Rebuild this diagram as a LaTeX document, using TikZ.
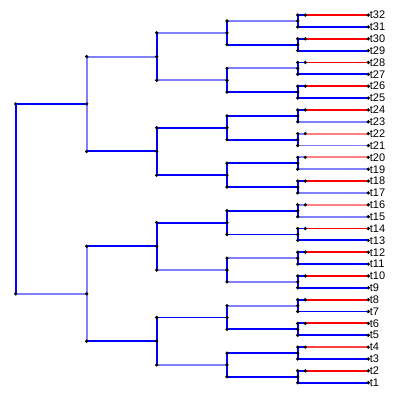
\documentclass[tikz,border=0pt]{standalone}
\usepackage{fontspec}
\setmainfont{Liberation Sans}
\usetikzlibrary{calc}

\begin{document}
\begin{tikzpicture}[
  x=1pt, y=-1pt,
  branch/.style={line width=1.9pt},
  edk/.style={branch, draw=blue},
  elt/.style={branch, draw=blue!50},
  erd/.style={branch, draw=red},
  emd/.style={branch, draw=red!75},
  elr/.style={branch, draw=red!50},
  pnt/.style={fill=black},
  tiplab/.style={anchor=west, inner xsep=1.4pt, inner ysep=0pt,
                 font=\fontsize{11}{12}\selectfont}
]
\useasboundingbox (0,0) rectangle (400,399);
% node positions (tips, pairs, then inner levels)
\foreach \i in {1,...,32}
  \coordinate (t\i) at (368.3,{382.7-(\i-1)*11.86});
\foreach \k in {1,...,16} {
  \coordinate (p\k) at (297.7,{382.7-(2*\k-1.5)*11.86});
  \coordinate (m\k) at (305.3,{382.7-(2*\k-1)*11.86});
}
\foreach \k in {1,...,8}
  \coordinate (q\k) at (227.0,{382.7-(4*\k-2.5)*11.86});
\foreach \k in {1,...,4}
  \coordinate (r\k) at (156.7,{382.7-(8*\k-4.5)*11.86});
\foreach \k in {1,2}
  \coordinate (s\k) at (86.7,{382.7-(16*\k-8.5)*11.86});
\coordinate (root) at (15.7,{382.7-15.5*11.86});

% tip edges
\foreach \k/\sa/\ra/\sb in {1/edk/erd/edk, 2/edk/emd/edk, 3/edk/erd/edk,
    4/edk/erd/edk, 5/edk/erd/edk, 6/edk/erd/edk, 7/edk/erd/edk, 8/elt/elr/elt,
    9/edk/erd/elt, 10/elt/elr/elt, 11/elt/elr/elt, 12/edk/erd/elt,
    13/edk/erd/edk, 14/edk/erd/edk, 15/edk/erd/edk, 16/edk/erd/edk} {
  \pgfmathtruncatemacro\ev{2*\k}
  \pgfmathtruncatemacro\od{2*\k-1}
  \draw[\sa] (m\k -| p\k) -- (m\k);
  \draw[\ra] (m\k) -- (t\ev);
  \draw[\sb] (t\od -| p\k) -- (t\od);
  \draw[edk] (m\k -| p\k) -- (t\od -| p\k);
}
% pair edges
\foreach \k/\s in {1/edk, 2/edk, 3/edk, 4/elt, 5/elt, 6/elt, 7/edk, 8/edk,
    9/edk, 10/edk, 11/edk, 12/edk, 13/edk, 14/elt, 15/edk, 16/elt} {
  \pgfmathtruncatemacro\up{(\k+1)/2}
  \draw[\s] (p\k -| q\up) -- (p\k);
}
\foreach \j in {1,...,8} {
  \pgfmathtruncatemacro\lo{2*\j-1}
  \pgfmathtruncatemacro\hi{2*\j}
  \draw[edk] (p\lo -| q\j) -- (p\hi -| q\j);
}
% third level
\foreach \k/\s in {1/elt, 2/edk, 3/elt, 4/edk, 5/edk, 6/edk, 7/elt, 8/elt} {
  \pgfmathtruncatemacro\up{(\k+1)/2}
  \draw[\s] (q\k -| r\up) -- (q\k);
}
\foreach \j in {1,...,4} {
  \pgfmathtruncatemacro\lo{2*\j-1}
  \pgfmathtruncatemacro\hi{2*\j}
  \draw[edk] (q\lo -| r\j) -- (q\hi -| r\j);
}
% second level
\foreach \k/\s in {1/edk, 2/edk, 3/edk, 4/elt} {
  \pgfmathtruncatemacro\up{(\k+1)/2}
  \draw[\s] (r\k -| s\up) -- (r\k);
}
\draw[elt] (r1 -| s1) -- (r2 -| s1);
\draw[elt] (r3 -| s2) -- (r4 -| s2);
% root
\draw[elt] (s1 -| root) -- (s1);
\draw[edk] (s2 -| root) -- (s2);
\draw[edk] (s1 -| root) -- (s2 -| root);

% end points
\foreach \i in {1,...,32}
  \fill[pnt] (t\i) circle (1.8pt);
\foreach \k in {1,...,16} {
  \pgfmathtruncatemacro\od{2*\k-1}
  \pgfmathtruncatemacro\up{(\k+1)/2}
  \fill[pnt] (m\k) circle (1.8pt) (m\k -| p\k) circle (1.8pt)
    (t\od -| p\k) circle (1.8pt) (p\k) circle (1.8pt) (p\k -| q\up) circle (1.8pt);
}
\foreach \k in {1,...,8} {
  \pgfmathtruncatemacro\up{(\k+1)/2}
  \fill[pnt] (q\k) circle (1.8pt) (q\k -| r\up) circle (1.8pt);
}
\foreach \k in {1,...,4} {
  \pgfmathtruncatemacro\up{(\k+1)/2}
  \fill[pnt] (r\k) circle (1.8pt) (r\k -| s\up) circle (1.8pt);
}
\fill[pnt] (s1) circle (1.8pt) (s2) circle (1.8pt)
  (s1 -| root) circle (1.8pt) (s2 -| root) circle (1.8pt);

% tip labels
\foreach \i in {1,...,32}
  \node[tiplab] (l\i) at (t\i) {t\i};
\end{tikzpicture}
\end{document}
